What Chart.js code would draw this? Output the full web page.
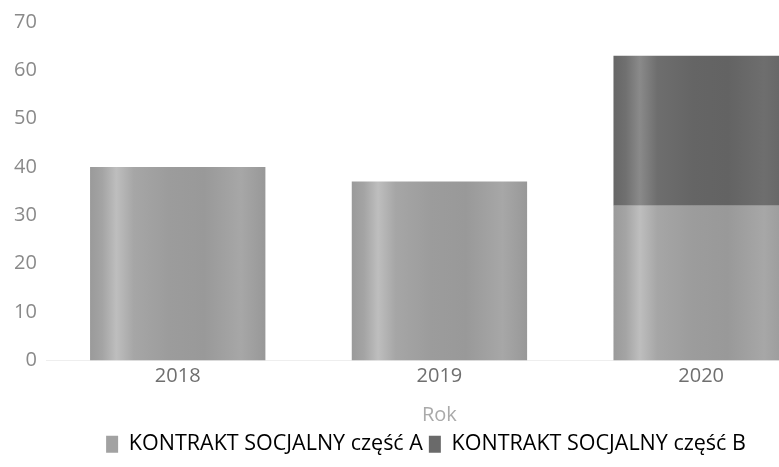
<!DOCTYPE html>
<html>
<head>
<meta charset="utf-8">
<script src="https://cdn.jsdelivr.net/npm/chart.js@4"></script>
<style>
  html, body { margin: 0; padding: 0; overflow: hidden; background: #fff; }
  #wrap { position: relative; width: 832px; height: 467px; }
</style>
</head>
<body>
<div id="wrap"><canvas id="c"></canvas></div>
<script>
const categories = ['2018', '2019', '2020'];
const seriesA = [40, 37, 32];
const seriesB = [0, 0, 31];
const seriesNames = ['KONTRAKT SOCJALNY część A', 'KONTRAKT SOCJALNY część B'];
const yTicks = [0, 10, 20, 30, 40, 50, 60, 70];

const BAR_FRACTION = 0.67;

function cylinder(stops) {
  return function (ctx) {
    const chart = ctx.chart;
    if (!chart.chartArea || ctx.dataIndex === undefined) return stops[1][1];
    const xs = chart.scales.x;
    const cx = xs.getPixelForValue(ctx.dataIndex);
    const w = (xs.width / categories.length) * BAR_FRACTION;
    const g = chart.ctx.createLinearGradient(cx - w / 2, 0, cx + w / 2, 0);
    stops.forEach(s => g.addColorStop(s[0], s[1]));
    return g;
  };
}

const stopsA = [
  [0.0, '#9a9a9a'], [0.07, '#a4a4a4'], [0.15, '#bebebe'], [0.25, '#a6a6a6'],
  [0.45, '#9c9c9c'], [0.65, '#999999'], [0.86, '#a7a7a7'], [1.0, '#989898']
];
const stopsB = [
  [0.0, '#666666'], [0.07, '#707070'], [0.15, '#8a8a8a'], [0.25, '#6e6e6e'],
  [0.45, '#656565'], [0.65, '#636363'], [0.86, '#6e6e6e'], [1.0, '#646464']
];

const legendShift = {
  id: 'legendShift',
  afterLayout(chart) {
    if (chart.legend) { chart.legend.left += 8; chart.legend.right += 8; }
  }
};

new Chart(document.getElementById('c'), {
  type: 'bar',
  data: {
    labels: categories,
    datasets: [
      {
        label: seriesNames[0],
        data: seriesA,
        backgroundColor: cylinder(stopsA),
        borderWidth: 0,
        barPercentage: BAR_FRACTION,
        categoryPercentage: 1
      },
      {
        label: seriesNames[1],
        data: seriesB,
        backgroundColor: cylinder(stopsB),
        borderWidth: 0,
        barPercentage: BAR_FRACTION,
        categoryPercentage: 1
      }
    ]
  },
  plugins: [legendShift],
  options: {
    responsive: true,
    maintainAspectRatio: false,
    animation: false,
    layout: { padding: { left: 4, top: 15, right: 0, bottom: 2 } },
    plugins: {
      tooltip: { enabled: false },
      legend: {
        position: 'bottom',
        labels: {
          font: { family: 'Open Sans', size: 21.5 },
          color: '#5a5a5a',
          boxWidth: 12,
          boxHeight: 17,
          padding: 6,
          generateLabels: function (chart) {
            const fills = ['#a2a2a2', '#6a6a6a'];
            return chart.data.datasets.map((ds, i) => ({
              text: ds.label,
              fillStyle: fills[i],
              strokeStyle: fills[i],
              lineWidth: 0,
              hidden: false,
              datasetIndex: i
            }));
          }
        }
      }
    },
    scales: {
      x: {
        stacked: true,
        grid: { display: false, drawTicks: false },
        border: { display: true, color: '#eeeeee' },
        ticks: { font: { family: 'Open Sans', size: 20 }, color: '#6f6f6f', padding: 4 },
        title: {
          display: true,
          text: 'Rok',
          font: { family: 'Open Sans', size: 20 },
          color: '#aaaaaa',
          padding: { top: 11, bottom: 0 }
        }
      },
      y: {
        stacked: true,
        min: 0,
        max: 70,
        afterBuildTicks: (axis) => { axis.ticks = yTicks.map(v => ({ value: v })); },
        grid: { display: false, drawTicks: false },
        border: { display: false },
        ticks: { font: { family: 'Open Sans', size: 20 }, color: '#8a8a8a', padding: 10 }
      }
    }
  }
});
</script>
</body>
</html>
